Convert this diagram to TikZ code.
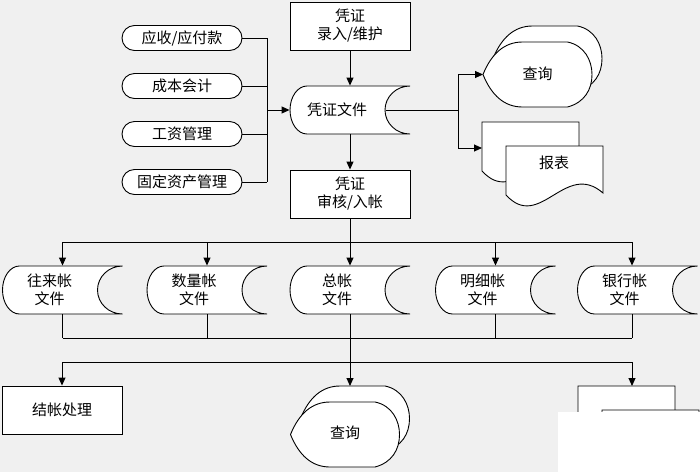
\documentclass[tikz,border=0pt]{standalone}
\usepackage{fontspec}
\setmainfont{Noto Sans CJK SC}
\usetikzlibrary{arrows.meta,positioning,calc}

\definecolor{bggray}{RGB}{240,240,240}

% outlines used by the pics below
\newcommand\displaypath{(-54.5,0) .. controls (-46,21) and (-33,32.5) .. (-15,32.5) -- (30,32.5) .. controls (47,29) and (54.5,14) .. (54.5,0) .. controls (54.5,-15) and (47,-28) .. (30,-32.5) -- (-15,-32.5) .. controls (-33,-32.5) and (-46,-21) .. cycle}
\newcommand\docpath{(-48,17) -- (49,17) -- (49,-30) .. controls (11,3) and (-14,-69) .. (-48,-32) -- cycle}

\tikzset{
	every node/.style={font=\fontsize{15pt}{18pt}\selectfont},
	box/.style={draw, fill=white, minimum width=120pt, minimum height=48pt, align=center, inner sep=0pt},
	pill/.style={draw, fill=white, rounded corners=12.5pt, minimum width=120pt, minimum height=25pt, inner sep=0pt},
	slot/.style={minimum width=120pt, minimum height=48pt, inner sep=0pt},
	note/.style={align=center, inner sep=0pt},
	arr/.style={-{Triangle[length=8pt,width=7pt]}},
	datafile/.pic={
		\draw[fill=white] (-43,24) -- (60,24) arc[start angle=90, end angle=270, x radius=25, y radius=24]
			-- (-43,-24) arc[start angle=270, end angle=90, x radius=17, y radius=24] -- cycle;
	},
	display/.pic={
		\draw[fill=white, shift={(10,16)}] \displaypath;
		\draw[fill=white] \displaypath;
		\coordinate (-in) at (-54.5,0);
		\coordinate (-top) at (5,48.5);
	},
	reports/.pic={
		\draw[fill=white, shift={(-24,24)}] \docpath;
		\draw[fill=white] \docpath;
		\coordinate (-in) at (-72,15);
		\coordinate (-top) at (-18,41);
	}
}

\begin{document}
\begin{tikzpicture}[x=1pt, y=1pt, line width=0.9pt]
	\fill[bggray] (0,0) rectangle (700,-472);
	\useasboundingbox (0,0) rectangle (700,-472);

	% shapes first, texts on top
	\pic at (350,-110) {datafile};
	\pic (q1) at (537.5,-74.5) {display};
	\pic (r1) at (554,-163) {reports};
	\pic (q2) at (345,-434.5) {display};
	\pic (r2) at (650,-427) {reports};

	\node[box] (entry) at (350,-26) {凭证\\录入/维护};
	\node[slot] (vfile) at (350,-110) {};
	\node[note] (vfile-t) at ([xshift=-13pt]vfile.center) {凭证文件};
	\node[box] (audit) at (350,-194) {凭证\\审核/入帐};

	\node[pill] (ar) at (182,-38) {应收/应付款};
	\node[pill] (cost) at (182,-86) {成本会计};
	\node[pill] (wage) at (182,-134) {工资管理};
	\node[pill] (asset) at (182,-182) {固定资产管理};

	\node[note] (q1-t) at (537.5,-74) {查询};
	\node[note] (r1-t) at (554,-163) {报表};

	\foreach \nm/\x/\txt in {wl/62.5/往来帐\\文件, sl/207/数量帐\\文件, zz/350/总帐\\文件, mx/495.5/明细帐\\文件, yh/637.5/银行帐\\文件}{
		\pic at (\x,-290) {datafile};
		\node[slot] (\nm) at (\x,-290) {};
		\node[note] (\nm-t) at ([xshift=-13pt]\nm.center) {\txt};
	}

	\node[box] (close) at (62,-410) {结帐处理};
	\node[note] (q2-t) at (345,-433) {查询};

	\coordinate (merge) at (267,-110);
	\coordinate (split) at (458,-110);
	\coordinate (busA) at (350,-242);
	\coordinate (busB) at (350,-338);
	\coordinate (busC) at (350,-362);
	\coordinate (yhx) at ([xshift=-5.5pt]yh.north);

	% sub-systems into voucher file
	\foreach \n in {ar,cost,wage,asset}
		\draw (\n.east) -- (\n.east -| merge);
	\draw (ar.east -| merge) -- (asset.east -| merge);
	\draw[arr] (merge) -- (vfile.west);

	\draw[arr] (entry) -- (vfile);
	\draw[arr] (vfile) -- (audit);

	% query and reports
	\draw ([xshift=-24pt]vfile.east) -- (split);
	\draw (split |- q1-in) -- (split |- r1-in);
	\draw[arr] (split |- q1-in) -- (q1-in);
	\draw[arr] (split |- r1-in) -- (r1-in);

	% ledgers
	\draw (audit) -- (busA);
	\draw (wl.north |- busA) -- (yhx |- busA);
	\foreach \n in {wl,sl,zz,mx}
		\draw[arr] (\n.north |- busA) -- (\n.north);
	\draw[arr] (yhx |- busA) -- (yhx);

	\foreach \n in {wl,sl,mx}
		\draw (\n.south) -- (\n.south |- busB);
	\draw (yhx |- yh.south) -- (yhx |- busB);
	\draw (wl.south |- busB) -- (yhx |- busB);
	\draw (zz.south) -- (busC);

	\draw (close.north |- busC) -- (r2-top |- busC);
	\draw[arr] (close.north |- busC) -- (close.north);
	\draw[arr] (busC) -- (q2-top);
	\draw[arr] (r2-top |- busC) -- (r2-top);

	% blank patch at the lower right corner
	\fill[white] (558,-412) rectangle (700,-472);
\end{tikzpicture}
\end{document}
